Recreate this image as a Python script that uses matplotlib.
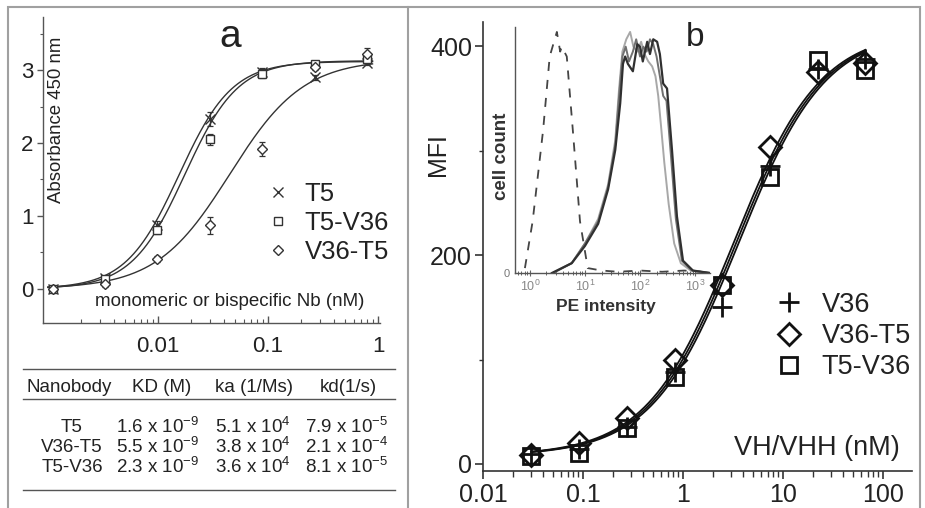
import numpy as np
import matplotlib.pyplot as plt
from matplotlib.lines import Line2D
from matplotlib.patches import Rectangle
from matplotlib.ticker import LogLocator, NullFormatter, FixedLocator, MultipleLocator

plt.rcParams['font.family'] = ['Liberation Sans', 'DejaVu Sans']
plt.rcParams['mathtext.fontset'] = 'custom'
plt.rcParams['mathtext.rm'] = 'Liberation Sans'
plt.rcParams['mathtext.it'] = 'Liberation Sans:italic'
plt.rcParams['mathtext.default'] = 'regular'

INK = '#222222'

# ---- panel a: ELISA ----
conc_a = [0.8, 0.267, 0.0889, 0.0296, 0.00988, 0.00329, 0.0011]
abs_t5 = [3.1, 2.9, 2.97, 2.33, 0.88, 0.15, 0.0]
abs_t5v36 = [3.15, 3.08, 2.95, 2.05, 0.8, 0.14, 0.0]
abs_v36t5 = [3.22, 3.05, 1.92, 0.87, 0.41, 0.06, -0.01]
err_t5 = [0.03, 0.03, 0.06, 0.1, 0.05, 0.03, 0.02]
err_t5v36 = [0.05, 0.04, 0.06, 0.08, 0.05, 0.03, 0.02]
err_v36t5 = [0.08, 0.05, 0.1, 0.12, 0.04, 0.03, 0.02]
# fitted curves (top, EC50, Hill slope)
fit_a = {'T5': (3.12, 0.0155, 1.8), 'T5-V36': (3.13, 0.0175, 1.8), 'V36-T5': (3.15, 0.045, 1.3)}

# ---- table ----
tab_header = ['Nanobody', 'KD (M)', 'ka (1/Ms)', 'kd(1/s)']
tab_names = ['T5', 'V36-T5', 'T5-V36']
tab_kd = ['1.6 x 10$^{-9}$', '5.5 x 10$^{-9}$', '2.3 x 10$^{-9}$']
tab_ka = ['5.1 x 10$^{4}$', '3.8 x 10$^{4}$', '3.6 x 10$^{4}$']
tab_kdis = ['7.9 x 10$^{-5}$', '2.1 x 10$^{-4}$', '8.1 x 10$^{-5}$']

# ---- panel b: flow cytometry MFI ----
conc_b = [0.0305, 0.0914, 0.274, 0.823, 2.47, 7.41, 22.2, 66.7]
mfi_v36 = [10, 14, 35, 88, 150, 285, 378, 388]
mfi_v36t5 = [9, 20, 44, 100, 171, 303, 375, 384]
mfi_t5v36 = [8, 11, 34, 83, 171, 275, 387, 377]
fit_b = {'V36': (8, 415, 3.6, 1.0), 'V36-T5': (8, 415, 3.2, 1.0), 'T5-V36': (8, 415, 3.4, 1.0)}

# ---- inset histograms (log10 PE intensity, % of max count) ----
ctrl_log = [-0.09, 0.05, 0.24, 0.36, 0.49, 0.55, 0.58, 0.67, 0.78, 0.91, 1.05, 1.3, 1.6, 2.0, 2.4, 2.8, 3.1]
ctrl_cnt = [2, 21, 58, 88, 98, 90, 92, 88, 58, 21, 2, 1, 0.5, 1, 0.5, 1, 0.5]
dark_log = [0.40, 0.76, 1.00, 1.24, 1.42, 1.55, 1.64, 1.69, 1.73, 1.78, 1.87, 1.95, 2.00, 2.05,
            2.13, 2.18, 2.24, 2.31, 2.36, 2.42, 2.49, 2.58, 2.67, 2.78, 2.96, 3.27]
dark_cnt = [0, 4, 11, 20, 34, 50, 69, 85, 88, 85, 82, 93, 92, 86, 94, 89, 95, 94, 89, 77, 75, 50, 23, 5, 1, 0]
mid_log = [0.42, 0.76, 1.00, 1.24, 1.42, 1.55, 1.62, 1.68, 1.74, 1.80, 1.87, 1.93, 2.00, 2.06,
           2.12, 2.18, 2.24, 2.30, 2.36, 2.42, 2.48, 2.56, 2.65, 2.76, 2.94, 3.27]
mid_cnt = [0, 4, 12, 21, 35, 52, 72, 88, 92, 86, 90, 95, 88, 92, 90, 95, 93, 88, 80, 72, 70, 48, 22, 5, 1, 0]
light_log = [0.42, 0.76, 1.00, 1.24, 1.42, 1.55, 1.62, 1.68, 1.75, 1.82, 1.88, 1.95, 2.02, 2.08,
             2.15, 2.22, 2.28, 2.33, 2.38, 2.44, 2.52, 2.62, 2.74, 2.92, 3.27]
light_cnt = [0, 4, 12, 22, 36, 54, 75, 90, 95, 98, 92, 90, 94, 89, 86, 84, 80, 72, 60, 45, 28, 12, 4, 1, 0]

W, H = 925, 508


def rect(x0, y0, x1, y1):
    return [x0 / W, 1 - y1 / H, (x1 - x0) / W, (y1 - y0) / H]


def fx(x):
    return x / W


def fy(y):
    return 1 - y / H


def hill(x, top, ec50, n, bottom=0.0):
    return bottom + (top - bottom) * x ** n / (x ** n + ec50 ** n)


fig = plt.figure(figsize=(W / 100, H / 100), dpi=100)
fig.patch.set_facecolor('white')

# frame and divider
fig.add_artist(Rectangle((fx(8), -0.05), fx(920) - fx(8), fy(7) + 0.05, transform=fig.transFigure,
                         fill=False, edgecolor='#a0a0a0', lw=1.5))
fig.add_artist(Line2D([fx(408), fx(408)], [0, fy(7)], color='#a0a0a0', lw=1.5))

# ================= panel a =================
axa = fig.add_axes(rect(43, 17, 380, 323))
axa.set_xscale('log')
axa.set_xlim(10 ** -3.045, 10 ** 0.018)
axa.set_ylim(-0.47, 3.73)
for s in ['top', 'right']:
    axa.spines[s].set_visible(False)
for s in ['left', 'bottom']:
    axa.spines[s].set_color('#555555')
    axa.spines[s].set_linewidth(1.0)

xs = np.logspace(-3.0, -0.05, 300)
series_a = [('T5', abs_t5, err_t5, 'x', 7),
            ('T5-V36', abs_t5v36, err_t5v36, 's', 5.5),
            ('V36-T5', abs_v36t5, err_v36t5, 'D', 5.5)]
handles_a = []
for name, vals, err, mk, ms in series_a:
    top, ec50, n = fit_a[name]
    axa.plot(xs, hill(xs, top, ec50, n), color='#333333', lw=1.0, zorder=2)
    axa.errorbar(conc_a, vals, yerr=err, fmt='none', ecolor='#333333', elinewidth=0.9,
                 capsize=2.5, capthick=0.9, zorder=3)
    h, = axa.plot(conc_a, vals, ls='none', marker=mk, ms=ms, mfc='white', mec='#333333',
                  mew=1.0, zorder=4, label=name)
    handles_a.append(h)

axa.set_xticks([0.01, 0.1, 1])
axa.set_xticklabels(['0.01', '0.1', '1'])
axa.xaxis.set_minor_locator(LogLocator(base=10, subs=np.arange(2, 10)))
axa.xaxis.set_minor_formatter(NullFormatter())
axa.tick_params(axis='x', which='major', direction='in', length=5, width=1, pad=9,
                labelsize=16, colors='#555555', labelcolor=INK)
axa.tick_params(axis='x', which='minor', direction='in', length=3, width=0.8, colors='#555555')
axa.set_yticks([0, 1, 2, 3])
axa.yaxis.set_minor_locator(MultipleLocator(0.5))
axa.tick_params(axis='y', which='major', direction='out', length=4, width=1, pad=3,
                labelsize=16, colors='#555555', labelcolor=INK)
axa.tick_params(axis='y', which='minor', direction='out', length=2.5, width=0.8, colors='#555555')

axa.legend(handles_a, [h.get_label() for h in handles_a], loc='center left',
           bbox_to_anchor=(fx(266), fy(223)), bbox_transform=fig.transFigure, frameon=False,
           handlelength=0.9, handletextpad=0.6, labelspacing=0.2, borderpad=0, borderaxespad=0,
           fontsize=18.5, labelcolor=INK)

fig.text(fx(230), fy(37), 'a', fontsize=28, ha='center', va='center', color=INK)
fig.text(fx(57), fy(120), 'Absorbance 450 nm', rotation=90, fontsize=13.4, ha='center',
         va='center', color=INK)
fig.text(fx(230), fy(301), 'monomeric or bispecific Nb (nM)', fontsize=13.5, ha='center',
         va='center', color=INK)

# ---- table ----
for yl in [369, 399, 490]:
    fig.add_artist(Line2D([fx(23), fx(395)], [fy(yl), fy(yl)], color='#555555', lw=1.0))
head_x = [69, 162, 254, 348]
for x, t in zip(head_x, tab_header):
    fig.text(fx(x), fy(388), t, fontsize=13.5, ha='center', va='center', color=INK)
col_x = [72, 158, 253, 347]
for i, row_y in enumerate([427, 447, 467]):
    for x, t in zip(col_x, [tab_names[i], tab_kd[i], tab_ka[i], tab_kdis[i]]):
        fig.text(fx(x), fy(row_y), t, fontsize=13.5, ha='center', va='center', color=INK)

# ================= panel b =================
axb = fig.add_axes(rect(483, 22, 912, 471))
axb.set_xscale('log')
axb.set_xlim(0.01, 10 ** 2.29)
axb.set_ylim(-6.7, 423)
for s in ['top', 'right']:
    axb.spines[s].set_visible(False)
for s in ['left', 'bottom']:
    axb.spines[s].set_color('#333333')
    axb.spines[s].set_linewidth(1.2)

xb = np.logspace(np.log10(0.0305), np.log10(66.7), 300)
for name in ['V36', 'V36-T5', 'T5-V36']:
    bottom, top, ec50, n = fit_b[name]
    axb.plot(xb, hill(xb, top, ec50, n, bottom), color='#111111', lw=1.3, zorder=2)

series_b = [('V36', mfi_v36, '+', 14, 2.0),
            ('V36-T5', mfi_v36t5, 'D', 11, 2.0),
            ('T5-V36', mfi_t5v36, 's', 12, 2.0)]
handles_b = []
for name, vals, mk, ms, mew in series_b:
    h, = axb.plot(conc_b, vals, ls='none', marker=mk, ms=ms, mfc='none', mec='#111111',
                  mew=mew, zorder=4, label=name)
    handles_b.append(h)

axb.set_xticks([0.01, 0.1, 1, 10, 100])
axb.set_xticklabels(['0.01', '0.1', '1', '10', '100'])
axb.xaxis.set_minor_locator(LogLocator(base=10, subs=np.arange(2, 10)))
axb.xaxis.set_minor_formatter(NullFormatter())
axb.tick_params(axis='x', which='major', direction='out', length=6, width=1.2, pad=3,
                labelsize=18, colors='#333333', labelcolor=INK)
axb.tick_params(axis='x', which='minor', direction='out', length=4, width=1, colors='#333333')
axb.set_yticks([0, 200, 400])
axb.yaxis.set_minor_locator(FixedLocator([100, 300]))
axb.tick_params(axis='y', which='major', direction='out', length=6, width=1.2, pad=2,
                labelsize=18, colors='#333333', labelcolor=INK)
axb.tick_params(axis='y', which='minor', direction='out', length=3, width=1, colors='#333333')

axb.legend(handles_b, [h.get_label() for h in handles_b], loc='center left',
           bbox_to_anchor=(fx(773), fy(336)), bbox_transform=fig.transFigure, frameon=False,
           handlelength=1.2, handletextpad=0.6, labelspacing=0.2, borderpad=0, borderaxespad=0,
           fontsize=19.5, labelcolor=INK)

fig.text(fx(695), fy(37), 'b', fontsize=24, ha='center', va='center', color=INK)
fig.text(fx(438), fy(155), 'MFI', rotation=90, fontsize=18, ha='center', va='center', color=INK)
fig.text(fx(900), fy(448), 'VH/VHH (nM)', fontsize=19.5, ha='right', va='center', color=INK)

# ---- inset ----
axi = fig.add_axes(rect(515, 27, 710, 273))
axi.set_xscale('log')
axi.set_xlim(10 ** -0.27, 10 ** 3.27)
axi.set_ylim(0, 100)
axi.patch.set_alpha(0)
for s in ['top', 'right']:
    axi.spines[s].set_visible(False)
for s in ['left', 'bottom']:
    axi.spines[s].set_color('#555555')
    axi.spines[s].set_linewidth(1.0)

axi.plot(10 ** np.array(ctrl_log), ctrl_cnt, color='#444444', lw=1.3, dashes=(5, 5))
axi.plot(10 ** np.array(light_log), light_cnt, color='#a8a8a8', lw=1.4)
axi.plot(10 ** np.array(mid_log), mid_cnt, color='#707070', lw=1.4)
axi.plot(10 ** np.array(dark_log), dark_cnt, color='#303030', lw=1.6)

axi.set_xticks([1, 10, 100, 1000])
axi.set_xticklabels(['$10^{0}$', '$10^{1}$', '$10^{2}$', '$10^{3}$'])
axi.xaxis.set_minor_locator(LogLocator(base=10, subs=np.arange(2, 10)))
axi.xaxis.set_minor_formatter(NullFormatter())
axi.tick_params(axis='x', which='major', direction='inout', length=5, width=0.8, pad=2,
                labelsize=9, colors='#666666', labelcolor='#888888')
axi.tick_params(axis='x', which='minor', direction='inout', length=3, width=0.7, colors='#666666')
axi.set_yticks([0])
axi.tick_params(axis='y', which='major', length=0, pad=4, labelsize=8, labelcolor='#777777')
fig.text(fx(606), fy(306), 'PE intensity', fontsize=12.5, fontweight='bold', color='#333333',
         ha='center', va='center')
fig.text(fx(502), fy(156), 'cell count', rotation=90, fontsize=13.5, fontweight='bold',
         color='#333333', ha='center', va='center')

fig.savefig('out.png', dpi=100)
